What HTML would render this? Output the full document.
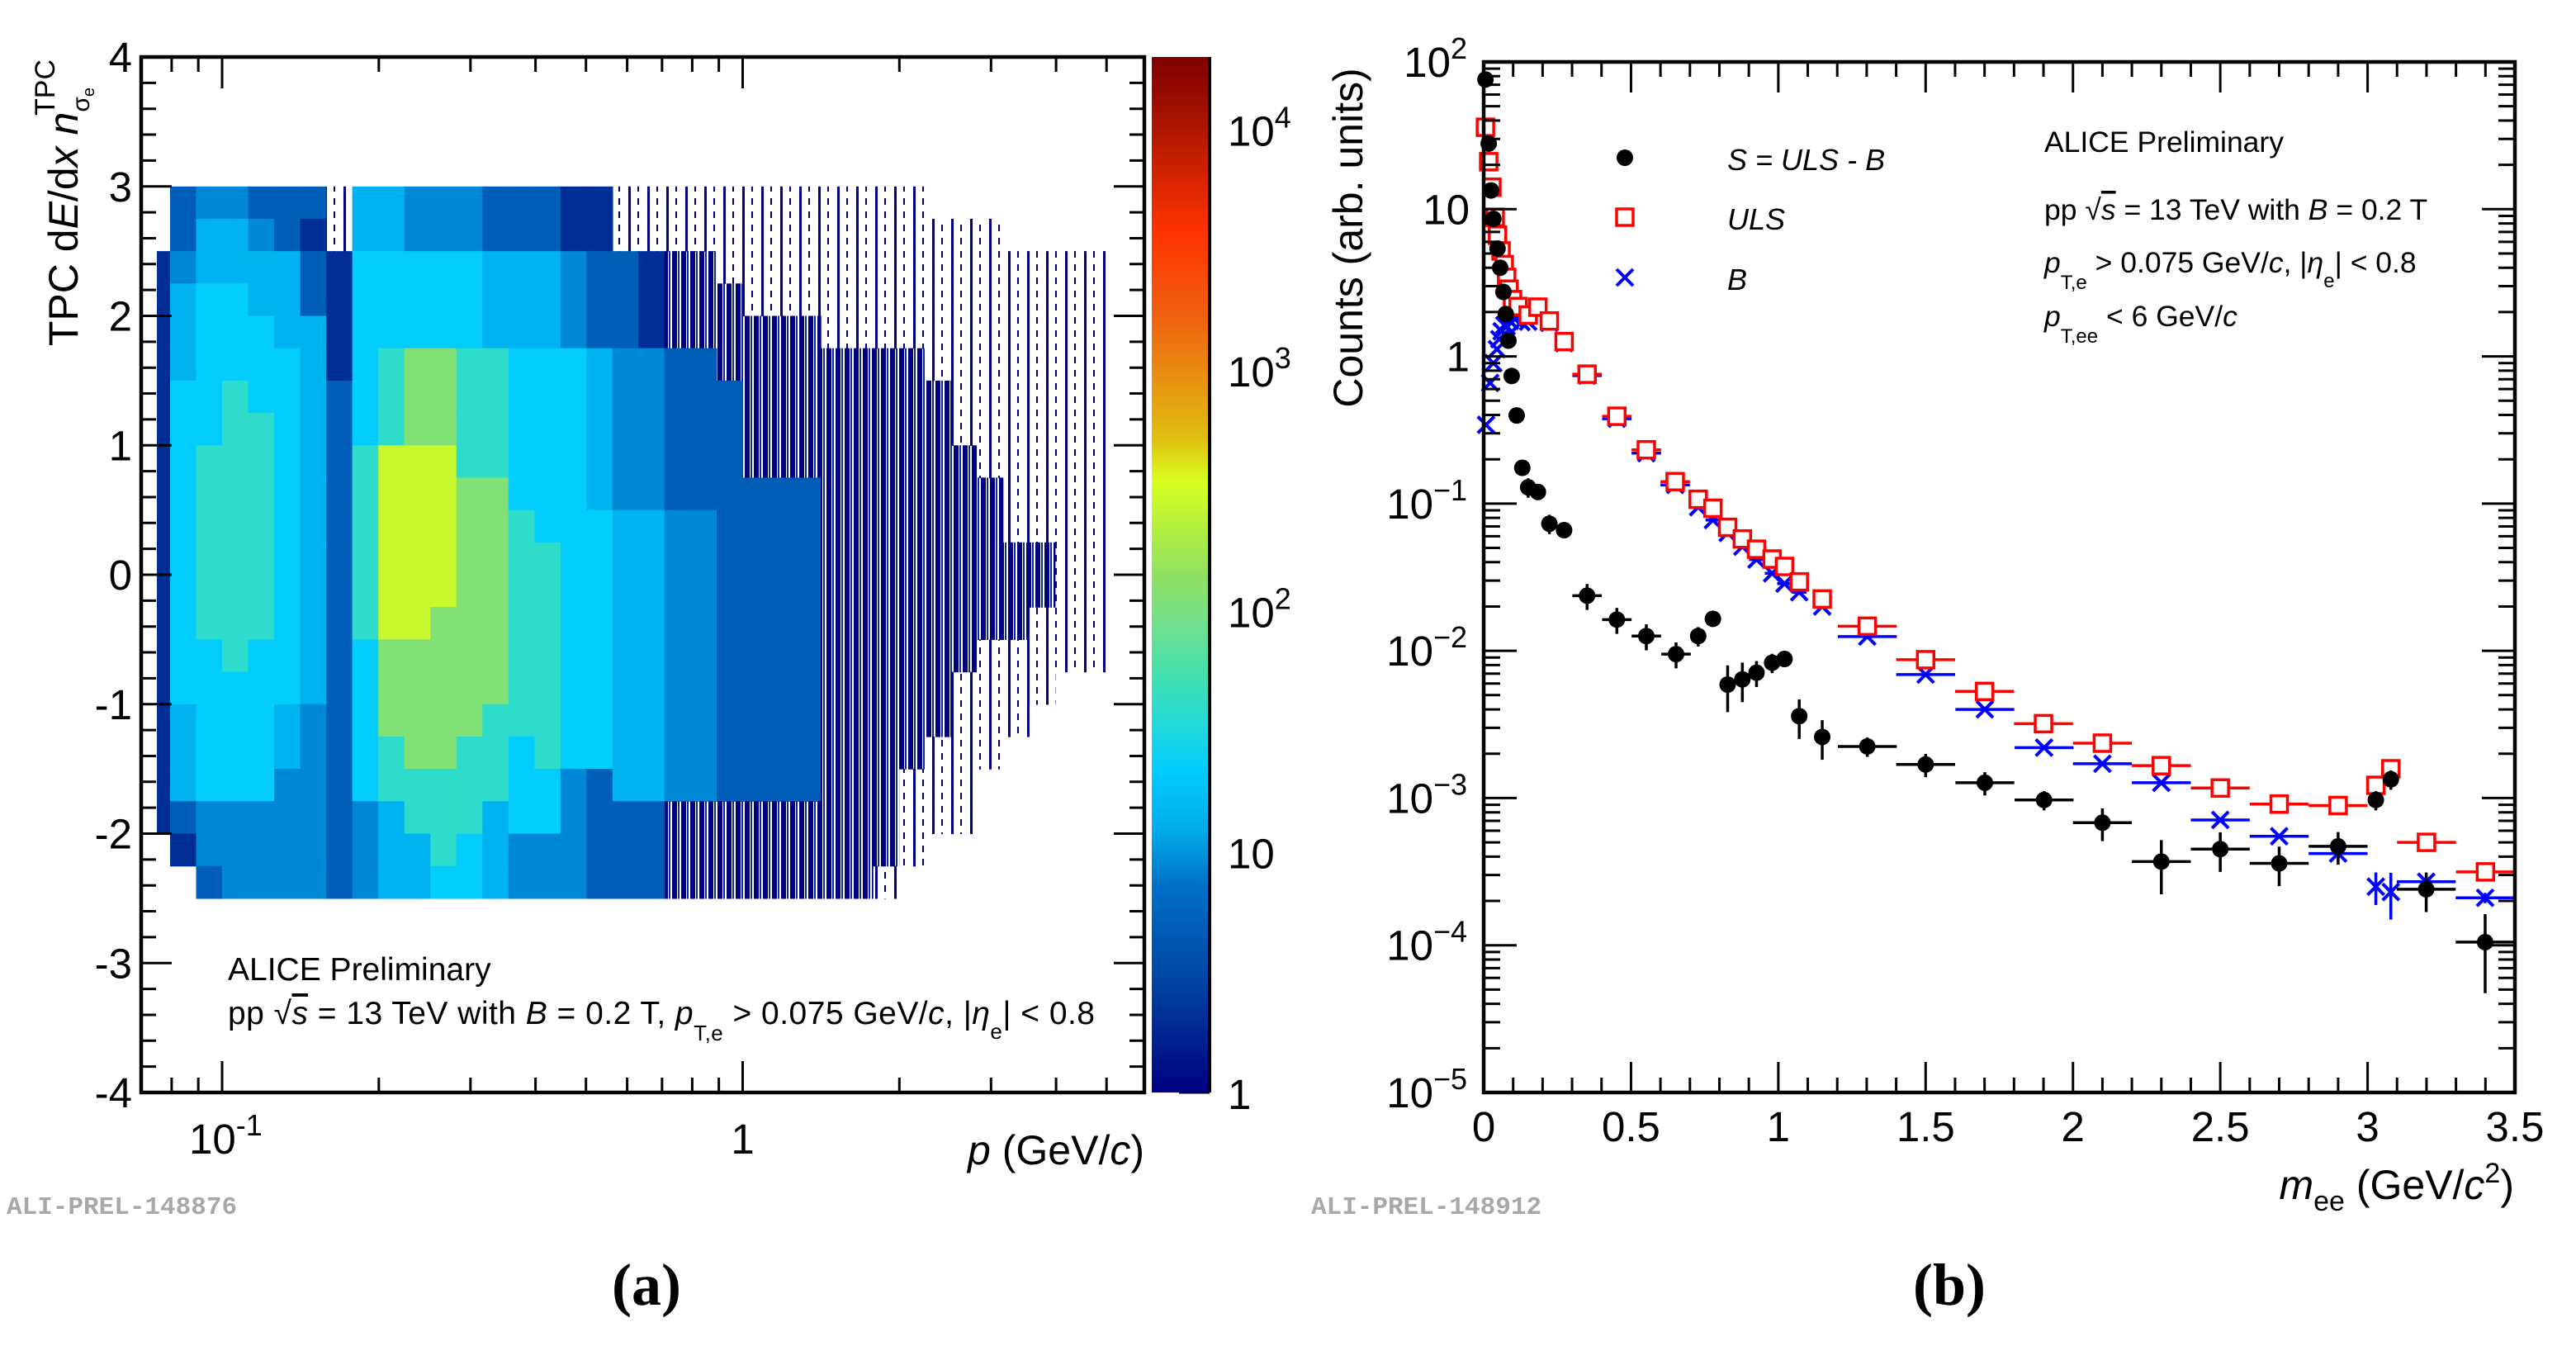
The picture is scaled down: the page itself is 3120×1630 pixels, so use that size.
<!DOCTYPE html>
<html><head><meta charset="utf-8">
<style>
html,body{margin:0;padding:0;background:#fff;}
svg{display:block;font-family:"Liberation Sans",sans-serif;}
</style></head>
<body>
<svg id="fig" xmlns="http://www.w3.org/2000/svg" width="3120" height="1630" viewBox="0 0 3120 1630">
<defs>
<linearGradient id="cgrad" x1="0" y1="1" x2="0" y2="0">
<stop offset="0" stop-color="#000080"/>
<stop offset="0.1" stop-color="#0040a0"/>
<stop offset="0.2" stop-color="#0070c8"/>
<stop offset="0.25" stop-color="#00a8e8"/>
<stop offset="0.31" stop-color="#00ccff"/>
<stop offset="0.35" stop-color="#20d8e0"/>
<stop offset="0.4" stop-color="#40e0b0"/>
<stop offset="0.45" stop-color="#70e090"/>
<stop offset="0.5" stop-color="#90e060"/>
<stop offset="0.59" stop-color="#d8ff20"/>
<stop offset="0.63" stop-color="#e0c010"/>
<stop offset="0.69" stop-color="#e89010"/>
<stop offset="0.75" stop-color="#f06010"/>
<stop offset="0.83" stop-color="#ff3300"/>
<stop offset="0.95" stop-color="#a01000"/>
<stop offset="1" stop-color="#800000"/>
</linearGradient>
<pattern id="sparse1" patternUnits="userSpaceOnUse" width="23" height="16">
<rect x="2" y="0" width="3" height="16" fill="#000080"/>
<rect x="13" y="0" width="2" height="8" fill="#000080"/>
</pattern>
<pattern id="sparse2" patternUnits="userSpaceOnUse" width="11" height="16">
<rect x="0" y="0" width="6" height="16" fill="#000080"/>
<rect x="7" y="0" width="2" height="16" fill="#0a2a9a"/>
</pattern>
</defs>
<g id="left"></g>
<g id="right"></g>
<text x="8" y="1470" font-family="Liberation Mono, monospace" font-weight="bold" font-size="31" fill="#a8a8a8">ALI-PREL-148876</text>
<text x="1588" y="1470" font-family="Liberation Mono, monospace" font-weight="bold" font-size="31" fill="#a8a8a8">ALI-PREL-148912</text>
<text x="783" y="1580" text-anchor="middle" font-family="Liberation Serif, serif" font-weight="bold" font-size="72">(a)</text>
<text x="2361" y="1580" text-anchor="middle" font-family="Liberation Serif, serif" font-weight="bold" font-size="72">(b)</text>
</svg>
<script>
// ===== Left panel data (heatmap) =====
const hmLogPStart = -1.15;
const hmLogPStep = 0.05;
const hmYTop = 3;
const hmYStep = 0.25;
// level -> log10(counts)
const hmLevelLog = [null, 0.1, 0.3, 0.7, 0.95, 1.15, 1.35, 1.6, 2.05, 2.45];
const hmColumns = [
"0022222222222222222200",
"3345556666666666555320",
"4556666677777766666443",
"4556667777777776666444",
"3455666777777766666444",
"3355566666666666554444",
"3233555555555555444444",
"1122223333333333333333",
"5566666677777766666444",
"5566677799999988877555",
"4466688899999988887755",
"4466688899999888887776",
"4466677778888888877766",
"3355577778888888777555",
"3355566666777777766644",
"3355566666677777776644",
"2244466666666666664444",
"2233355555666666663333",
"1133344444555555555333",
"1122244444555555555333",
"1122233333444444444222",
"1122233333444444444222",
"1112223333333333333222",
"1111222223333333333222",
"1111222223333333333222",
"1111222223333333333222",
"1111122222222222222222",
"1111122222222222222222",
"1111122222222222222221",
"1111122222222222221110",
"0111112222222222211100",
"0111111122222221111100",
"0111111112222211110000",
"0011111111122211100000",
"0011111111122111000000",
"0011111111111110000000",
"0011111111111110000000",
"0000000000000000000000"
];
const lxMajor = [0.1, 1];
const lxMajorLabels = ["10", "1"];
const lxMinor = [0.08,0.09,0.2,0.3,0.4,0.5,0.6,0.7,0.8,0.9,2,3,4,5];
const lyTicks = [-4,-3,-2,-1,0,1,2,3,4];
const czTicks = [1,10,100,1000,10000];

// ===== Right panel data =====
const sigM = [0.006,0.017,0.025,0.033,0.047,0.056,0.067,0.075,0.084,0.095,0.112,0.131,0.151,0.184,0.223,0.273,0.351,0.452,0.552,0.653,0.728,0.778,0.828,0.878,0.926,0.979,1.021,1.071,1.149,1.302,1.5,1.701,1.902,2.1,2.3,2.5,2.7,2.9,3.028,3.079,3.199,3.399];
const sigV = [76,27.9,13.4,8.6,5.4,4.0,2.74,1.94,1.28,0.736,0.397,0.175,0.129,0.120,0.073,0.066,0.0237,0.0163,0.0126,0.0095,0.0126,0.0165,0.0059,0.0064,0.0071,0.0083,0.0088,0.0036,0.0026,0.00224,0.00169,0.00127,0.00097,0.00068,0.00037,0.00045,0.00036,0.00047,0.00097,0.00134,0.00024,0.000105];
const sigErr = [0.05,0.05,0.05,0.05,0.05,0.05,0.05,0.05,0.05,0.05,0.08,0.1,0.15,0.1,0.15,0.1,0.2,0.2,0.2,0.2,0.15,0.1,0.35,0.3,0.2,0.15,0.12,0.3,0.3,0.15,0.18,0.18,0.15,0.25,0.4,0.3,0.3,0.25,0.15,0.15,0.3,0.55];
const ulsM = [0.006,0.017,0.028,0.039,0.047,0.059,0.07,0.078,0.086,0.098,0.117,0.151,0.184,0.223,0.273,0.351,0.452,0.552,0.65,0.728,0.778,0.828,0.878,0.926,0.979,1.021,1.071,1.149,1.302,1.5,1.7,1.9,2.1,2.3,2.5,2.7,2.9,3.028,3.079,3.2,3.4];
const ulsV = [36,21,14.1,8.8,6.65,5.2,4.2,3.44,2.86,2.43,2.18,1.91,2.16,1.74,1.26,0.757,0.392,0.232,0.141,0.107,0.093,0.069,0.0575,0.049,0.042,0.0374,0.0294,0.0225,0.0147,0.0087,0.0053,0.0032,0.00236,0.00166,0.00117,0.00091,0.00089,0.00122,0.00158,0.0005,0.000315];
const bkgM = [0.008,0.022,0.033,0.045,0.053,0.061,0.07,0.078,0.089,0.106,0.128,0.151,0.184,0.223,0.273,0.351,0.452,0.552,0.65,0.728,0.778,0.828,0.878,0.926,0.979,1.021,1.071,1.149,1.302,1.5,1.701,1.902,2.1,2.3,2.5,2.7,2.9,3.028,3.079,3.199,3.399];
const bkgV = [0.343,0.66,0.90,1.12,1.31,1.48,1.63,1.6,1.74,1.79,1.71,1.72,2.04,1.69,1.23,0.74,0.377,0.22,0.134,0.0946,0.0773,0.0632,0.051,0.0417,0.0336,0.0286,0.025,0.02,0.0125,0.0069,0.004,0.0022,0.00171,0.00127,0.00071,0.00055,0.00042,0.00025,0.00023,0.00027,0.00021];
const bkgErr = [0,0,0,0,0,0,0,0,0,0,0,0,0,0,0,0,0,0,0,0,0,0,0,0,0,0,0,0,0,0,0,0,0,0,0,0,0.1,0.25,0.35,0.1,0.08];
const rxTicks = [0,0.5,1,1.5,2,2.5,3,3.5];
const rxTickLabels = ["0","0.5","1","1.5","2","2.5","3","3.5"];
const ryDecades = [-5,-4,-3,-2,-1,0,1,2];

const NS = "http://www.w3.org/2000/svg";
function mk(tag, attrs, parent){
  const e = document.createElementNS(NS, tag);
  for (const k in attrs) e.setAttribute(k, attrs[k]);
  parent.appendChild(e);
  return e;
}
function txt(parent, x, y, content, opts){
  const t = document.createElementNS(NS, "text");
  t.setAttribute("x", x); t.setAttribute("y", y);
  for (const k in opts) t.setAttribute(k, opts[k]);
  t.innerHTML = content;
  parent.appendChild(t);
  return t;
}
const cStops = [[0,[0,0,128]],[0.1,[0,64,160]],[0.2,[0,112,200]],[0.25,[0,168,232]],[0.31,[0,204,255]],[0.35,[32,216,224]],[0.4,[64,224,176]],[0.45,[112,224,144]],[0.5,[144,224,96]],[0.59,[216,255,32]],[0.63,[224,192,16]],[0.69,[232,144,16]],[0.75,[240,96,16]],[0.83,[255,51,0]],[0.95,[160,16,0]],[1,[128,0,0]]];
function colorFor(lg){
  const f = Math.max(0, Math.min(1, lg/4.3));
  for (let i=1;i<cStops.length;i++){
    if (f <= cStops[i][0]){
      const a=cStops[i-1], b=cStops[i], t=(f-a[0])/(b[0]-a[0]);
      const c=a[1].map((v,j)=>Math.round(v+(b[1][j]-v)*t));
      return "rgb("+c.join(",")+")";
    }
  }
  return "rgb(128,0,0)";
}

// ===== LEFT PANEL =====
(function(){
  const g = document.getElementById("left");
  const L=171, R=1386, T=69, B=1323;
  const xS = p => 899.5 + 630.5*Math.log10(p);
  const yS = v => T + (4 - v)*(B-T)/8;
  const hm = mk("g", {}, g);
  
  
  hmColumns.forEach((col, c) => {
    const x0 = Math.max(190, xS(Math.pow(10, hmLogPStart + hmLogPStep*c)));
    const x1 = Math.min(1346, xS(Math.pow(10, hmLogPStart + hmLogPStep*(c+1))));
    if (x1 <= x0) return;
    for (let r=0;r<col.length;r++){
      const lvl = +col[r];
      if (!lvl) continue;
      const y0 = yS(hmYTop - hmYStep*r), y1 = yS(hmYTop - hmYStep*(r+1));
      let fill = colorFor(hmLevelLog[lvl]);
      if (lvl===1) fill = "url(#sparse1)";
      else if (lvl===2 && c>=20) fill = "url(#sparse2)";
      const rc = mk("rect", {x:x0.toFixed(1), y:y0.toFixed(1), width:(x1-x0+0.6).toFixed(1), height:(y1-y0+0.6).toFixed(1), fill:fill}, hm);
      
      
    }
  });
  const fr = mk("rect", {x:L, y:T, width:R-L, height:B-T, fill:"none", stroke:"#000", "stroke-width":4.5}, g);
  
  
  const tk = mk("g", {stroke:"#000","stroke-width":3}, g);
  
  
  for (let v=-4; v<=4.001; v+=0.2){
    const y = yS(v); const major = Math.abs(v-Math.round(v))<1e-6;
    const len = major?37:18;
    mk("line",{x1:L,y1:y,x2:L+len,y2:y},tk);
    mk("line",{x1:R,y1:y,x2:R-len,y2:y},tk);
  }
  lyTicks.forEach(v=>{
    const t = txt(g, 160, yS(v)+18, String(v), {"font-size":51,"text-anchor":"end"});
    
    
  });
  lxMajor.forEach(p=>{ const x=xS(p); mk("line",{x1:x,y1:B,x2:x,y2:B-38},tk); mk("line",{x1:x,y1:T,x2:x,y2:T+38},tk); });
  lxMinor.forEach(p=>{ const x=xS(p); mk("line",{x1:x,y1:B,x2:x,y2:B-18},tk); mk("line",{x1:x,y1:T,x2:x,y2:T+18},tk); });
  let t = txt(g, xS(lxMajor[0])-40, 1397, lxMajorLabels[0]+'<tspan dy="-22" font-size="36">-1</tspan>', {"font-size":51});
  
  
  t = txt(g, xS(lxMajor[1]), 1397, lxMajorLabels[1], {"font-size":51,"text-anchor":"middle"});
  
  
  t = txt(g, 1386, 1410, '<tspan font-style="italic">p</tspan> (GeV/<tspan font-style="italic">c</tspan>)', {"font-size":50,"text-anchor":"end"});
  
  
  t = txt(g, 0, 0, 'TPC d<tspan font-style="italic">E</tspan>/d<tspan font-style="italic">x</tspan> <tspan font-style="italic">n</tspan><tspan dy="14" font-size="30">σ</tspan><tspan dy="6" font-size="20">e</tspan><tspan dx="-34" dy="-48" font-size="34">TPC</tspan>', {"font-size":50,"text-anchor":"end","transform":"translate(94,72) rotate(-90)"});
  
  
  t = txt(g, 276, 1187, 'ALICE Preliminary', {"font-size":39});
  
  
  t = txt(g, 276, 1240, 'pp  √<tspan font-style="italic" text-decoration="overline">s</tspan> = 13 TeV with <tspan font-style="italic">B</tspan> = 0.2 T, <tspan font-style="italic">p</tspan><tspan dy="20" font-size="26">T,e</tspan><tspan dy="-20"> &gt; 0.075 GeV/</tspan><tspan font-style="italic">c</tspan>, |<tspan font-style="italic">η</tspan><tspan dy="18" font-size="26">e</tspan><tspan dy="-18">| &lt; 0.8</tspan>', {"font-size":39,"textLength":1050});
  
  
  const cb = mk("rect",{x:1395,y:T,width:70,height:B-T,fill:"url(#cgrad)"},g);
  
  
  mk("line",{x1:1465,y1:T,x2:1465,y2:B,stroke:"#000","stroke-width":4},g);
  const cz = lg => B - (B-T)*lg/4.3;
  for (let d=0; d<=4; d++){
    for (let k=1;k<=9;k++){
      const lg = d + Math.log10(k); if (lg>4.3) continue;
      const y=cz(lg); mk("line",{x1:1465,y1:y,x2:1465-(k===1?37:18),y2:y},tk);
    }
  }
  czTicks.forEach((v,i)=>{
    const lg=Math.log10(v); const y=cz(lg)+20;
    const s = i===0?"1":(i===1?"10":'10<tspan dy="-22" font-size="36">'+i+'</tspan>');
    const tt = txt(g, 1487, y, s, {"font-size":51});
    
    
  });
})();

// ===== RIGHT PANEL =====
(function(){
  const g = document.getElementById("right");
  const L=1797, R=3046, T=75, B=1323;
  const xS = m => L + (R-L)*m/3.5;
  const yS = v => T + (2 - Math.log10(v))*(B-T)/7;
  const halfW = m => m>=3.0 && m<3.1 ? 0 : (m>=1.2 ? 0.1 : (m>=0.7 ? 0.025 : (m>=0.3 ? 0.05 : 0.008)));
  function series(ms, vs, errs, color, kind, name){
    const sg = mk("g",{},g);
    
    
    ms.forEach((m,i)=>{
      const x=xS(m), y=yS(vs[i]), hw=halfW(m);
      const pg = mk("g",{stroke:color,"stroke-width":3.5,fill:"none"},sg);
      
      
      if (hw>0) mk("line",{x1:xS(m-hw),y1:y,x2:xS(m+hw),y2:y},pg);
      const e = errs ? errs[i] : 0;
      if (e>0){ mk("line",{x1:x,y1:yS(vs[i]*(1+e)),x2:x,y2:yS(vs[i]*Math.max(0.05,1-e))},pg); }
      if (kind==="dot") mk("circle",{cx:x,cy:y,r:10,fill:color,stroke:"none"},pg);
      else if (kind==="sq") mk("rect",{x:x-10,y:y-10,width:20,height:20,fill:"#fff",stroke:color,"stroke-width":3.5},pg);
      else { mk("line",{x1:x-10,y1:y-10,x2:x+10,y2:y+10,"stroke-width":4},pg); mk("line",{x1:x-10,y1:y+10,x2:x+10,y2:y-10,"stroke-width":4},pg); }
    });
  }
  series(bkgM,bkgV,bkgErr,"#0000ff","x","series-b");
  series(ulsM,ulsV,null,"#ff0000","sq","series-uls");
  series(sigM,sigV,sigErr,"#000000","dot","series-signal");
  const fr = mk("rect",{x:L,y:T,width:R-L,height:B-T,fill:"none",stroke:"#000","stroke-width":4.5},g);
  
  
  const tk = mk("g",{stroke:"#000","stroke-width":3},g);
  
  
  for (let k=0;k<=35;k++){
    const m=k/10, x=xS(m), len=(k%5===0)?37:18;
    mk("line",{x1:x,y1:B,x2:x,y2:B-len},tk); mk("line",{x1:x,y1:T,x2:x,y2:T+len},tk);
  }
  rxTicks.forEach((m,i)=>{
    const t = txt(g, xS(m), 1382, rxTickLabels[i], {"font-size":51,"text-anchor":"middle"});
    
    
  });
  ryDecades.forEach(d=>{
    const v=Math.pow(10,d), y=yS(v);
    mk("line",{x1:L,y1:y,x2:L+40,y2:y},tk); mk("line",{x1:R,y1:y,x2:R-40,y2:y},tk);
    if (d<2) for (let k=2;k<=9;k++){ const yy=yS(k*v); mk("line",{x1:L,y1:yy,x2:L+20,y2:yy},tk); mk("line",{x1:R,y1:yy,x2:R-20,y2:yy},tk); }
    let s;
    if (d===0) s="1"; else if (d===1) s="10";
    else s='10<tspan dy="-22" font-size="36">'+(d<0?"−"+(-d):d)+'</tspan>';
    const t = txt(g, (d===0||d===1)?1780:1777, y+18, s, {"font-size":51,"text-anchor":"end"});
    
    
  });
  let t = txt(g, 0, 0, 'Counts (arb. units)', {"font-size":50,"text-anchor":"middle","transform":"translate(1650,288) rotate(-90)"});
  
  
  t = txt(g, 3045, 1452, '<tspan font-style="italic">m</tspan><tspan dy="14" font-size="34">ee</tspan><tspan dy="-14"> (GeV/</tspan><tspan font-style="italic">c</tspan><tspan dy="-20" font-size="34">2</tspan><tspan dy="20">)</tspan>', {"font-size":50,"text-anchor":"end"});
  
  
  const lg = mk("g",{},g);
  
  
  mk("circle",{cx:1968,cy:191,r:10,fill:"#000"},lg);
  mk("rect",{x:1958,y:253,width:20,height:20,fill:"none",stroke:"#f00","stroke-width":3.5},lg);
  mk("line",{x1:1958,y1:326,x2:1978,y2:346,stroke:"#00f","stroke-width":4},lg);
  mk("line",{x1:1958,y1:346,x2:1978,y2:326,stroke:"#00f","stroke-width":4},lg);
  t = txt(lg, 2092, 206, 'S = ULS - B', {"font-size":36,"font-style":"italic"});
  
  
  t = txt(lg, 2092, 278, 'ULS', {"font-size":36,"font-style":"italic"});
  
  
  t = txt(lg, 2092, 351, 'B', {"font-size":36,"font-style":"italic"});
  
  
  t = txt(g, 2476, 184, 'ALICE Preliminary', {"font-size":35.5});
  
  
  t = txt(g, 2476, 266, 'pp  √<tspan font-style="italic" text-decoration="overline">s</tspan> = 13 TeV with <tspan font-style="italic">B</tspan> = 0.2 T', {"font-size":35.5});
  
  
  t = txt(g, 2476, 330, '<tspan font-style="italic">p</tspan><tspan dy="20" font-size="24">T,e</tspan><tspan dy="-20"> &gt; 0.075 GeV/</tspan><tspan font-style="italic">c</tspan>, |<tspan font-style="italic">η</tspan><tspan dy="18" font-size="24">e</tspan><tspan dy="-18">| &lt; 0.8</tspan>', {"font-size":35.5});
  
  
  t = txt(g, 2476, 395, '<tspan font-style="italic">p</tspan><tspan dy="20" font-size="24">T,ee</tspan><tspan dy="-20"> &lt; 6 GeV/</tspan><tspan font-style="italic">c</tspan>', {"font-size":35.5});
  
  
})();
</script>
</body></html>
